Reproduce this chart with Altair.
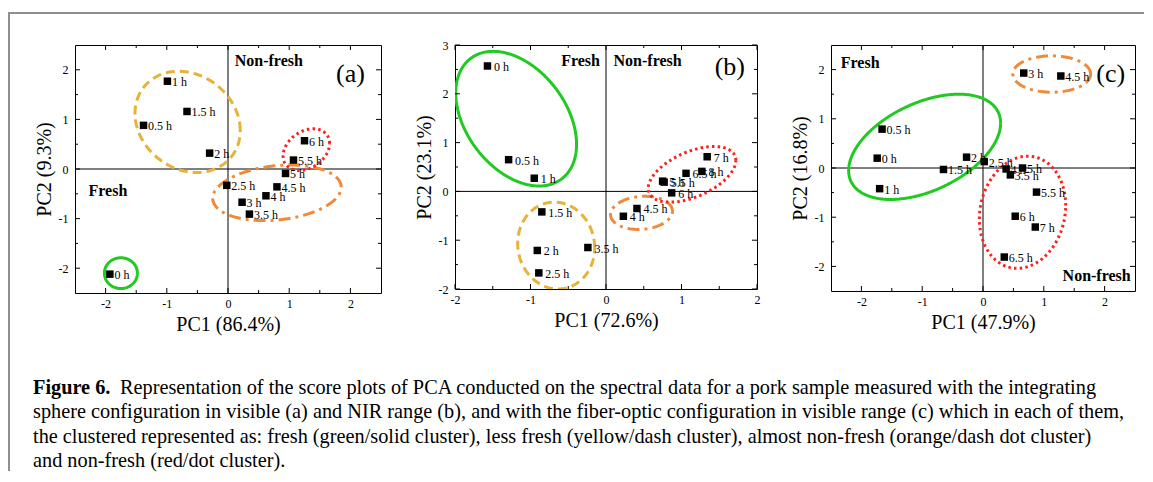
import altair as alt
import numpy as np
import pandas as pd

FONT = "Liberation Serif"

# ---------------- panel (a): integrating sphere, visible ----------------
a_labels = ["0 h", "0.5 h", "1 h", "1.5 h", "2 h", "2.5 h", "3 h", "3.5 h",
            "4 h", "4.5 h", "5 h", "5.5 h", "6 h"]
a_pc1 = [-1.93, -1.38, -0.99, -0.67, -0.30, -0.02, 0.23, 0.35, 0.62, 0.80, 0.94, 1.07, 1.25]
a_pc2 = [-2.12, 0.88, 1.77, 1.16, 0.32, -0.33, -0.67, -0.91, -0.54, -0.36, -0.09, 0.18, 0.57]
a_xticks = [-2, -1, 0, 1, 2]
a_xminor = [-1.5, -0.5, 0.5, 1.5]
a_yticks = [-2, -1, 0, 1, 2]
a_yminor = [-1.5, -0.5, 0.5, 1.5]
# cluster ellipses: centre, half extents, correlation
a_cl = ["fresh", "less fresh", "almost non-fresh", "non-fresh"]
a_cx = [-1.75, -0.66, 0.80, 1.28]
a_cy = [-2.10, 0.95, -0.48, 0.39]
a_hx = [0.27, 0.86, 1.05, 0.38]
a_hy = [0.31, 1.02, 0.56, 0.42]
a_r = [0.0, -0.17, 0.20, 0.30]

# ---------------- panel (b): integrating sphere, NIR ----------------
b_labels = ["0 h", "0.5 h", "1 h", "1.5 h", "2 h", "2.5 h", "3.5 h", "4 h", "4.5 h",
            "5 h", "5.5 h", "6 h", "6.5 h", "7 h", "8 h"]
b_pc1 = [-1.57, -1.29, -0.95, -0.85, -0.91, -0.89, -0.24, 0.23, 0.41, 0.75, 0.77, 0.87, 1.06, 1.34, 1.27]
b_pc2 = [2.57, 0.65, 0.27, -0.42, -1.21, -1.67, -1.15, -0.51, -0.35, 0.21, 0.19, -0.03, 0.37, 0.71, 0.41]
b_xticks = [-2, -1, 0, 1, 2]
b_xminor = [-1.5, -0.5, 0.5, 1.5]
b_yticks = [-2, -1, 0, 1, 2, 3]
b_yminor = [-1.5, -0.5, 0.5, 1.5, 2.5]
b_cl = ["fresh", "less fresh", "almost non-fresh", "non-fresh"]
b_cx = [-1.19, -0.66, 0.47, 1.14]
b_cy = [1.49, -1.11, -0.44, 0.35]
b_hx = [0.80, 0.51, 0.41, 0.58]
b_hy = [1.38, 0.89, 0.34, 0.57]
b_r = [-0.38, -0.05, 0.10, 0.50]

# ---------------- panel (c): fiber optic, visible ----------------
c_labels = ["0 h", "0.5 h", "1 h", "1.5 h", "2 h", "2.5 h", "3 h", "3.5 h", "4 h",
            "4.5 h", "5 h", "5.5 h", "6 h", "6.5 h", "7 h"]
c_pc1 = [-1.74, -1.66, -1.70, -0.65, -0.27, 0.02, 0.67, 0.45, 0.38, 1.28, 0.65, 0.88, 0.53, 0.35, 0.86]
c_pc2 = [0.20, 0.79, -0.42, -0.03, 0.22, 0.13, 1.93, -0.14, -0.02, 1.87, 0.00, -0.49, -0.98, -1.81, -1.20]
c_xticks = [-2, -1, 0, 1, 2]
c_xminor = [-1.5, -0.5, 0.5, 1.5]
c_yticks = [-2, -1, 0, 1, 2]
c_yminor = [-1.5, -0.5, 0.5, 1.5]
c_cl = ["fresh", "almost non-fresh", "non-fresh"]
c_cx = [-0.96, 1.13, 0.65]
c_cy = [0.43, 1.91, -0.90]
c_hx = [1.25, 0.64, 0.71]
c_hy = [1.07, 0.37, 1.14]
c_r = [0.45, 0.0, 0.12]

CLUSTERS = ["fresh", "less fresh", "almost non-fresh", "non-fresh"]
COLORS = ["#22c922", "#e8b23a", "#f08a3a", "#ff1e1e"]
DASHES = [[1, 0], [9, 5], [12, 5, 3, 5], [2.5, 3.2]]

caption_bold = "Figure 6."
caption_lines = [
    "Representation of the score plots of PCA conducted on the spectral data for a pork sample measured with the integrating",
    "sphere configuration in visible (a) and NIR range (b), and with the fiber-optic configuration in visible range (c) which in each of them,",
    "the clustered represented as: fresh (green/solid cluster), less fresh (yellow/dash cluster), almost non-fresh (orange/dash dot cluster)",
    "and non-fresh (red/dot cluster).",
]


def ellipse_df(cl, cx, cy, hx, hy, r):
    t = np.linspace(0, 2 * np.pi, 145)
    rows = []
    for c, x0, y0, a, b, rr in zip(cl, cx, cy, hx, hy, r):
        xs = x0 + a * np.cos(t)
        ys = y0 + b * (rr * np.cos(t) + np.sqrt(1 - rr * rr) * np.sin(t))
        for i, (xx, yy) in enumerate(zip(xs, ys)):
            rows.append({"cluster": c, "i": i, "x": float(xx), "y": float(yy)})
    return pd.DataFrame(rows)


def panel(labels, pc1, pc2, ell, xdom, ydom, xt, xm, yt, ym, xtitle, ytitle, notes, w, h, dx):
    xs = alt.Scale(domain=xdom, nice=False, zero=False)
    ys = alt.Scale(domain=ydom, nice=False, zero=False)
    xax = alt.Axis(values=xt, title=xtitle, labelExpr="datum.value + ''", labelPadding=5,
                   titlePadding=5, labelFlush=False, orient="bottom", ticks=False, domain=False,
                   grid=False, labels=True, labelFont=FONT, labelFontSize=12, labelColor="black",
                   titleFont=FONT, titleFontSize=20, titleFontWeight="normal", titleColor="black")
    yax = alt.Axis(values=yt, title=ytitle, labelExpr="datum.value + ''", labelPadding=7,
                   titlePadding=4, labelFlush=False, orient="left", ticks=False, domain=False,
                   grid=False, labels=True, labelFont=FONT, labelFontSize=12, labelColor="black",
                   titleFont=FONT, titleFontSize=20, titleFontWeight="normal", titleColor="black")

    def X(f):
        return alt.X(f, scale=xs, axis=xax)

    def Y(f):
        return alt.Y(f, scale=ys, axis=yax)

    def tick_layer(vals, size, axis, side):
        df = pd.DataFrame({"v": vals})
        if axis == "x":
            edge = ydom[0] if side == "low" else ydom[1]
            off = -size / 2 if side == "low" else size / 2
            return alt.Chart(df).mark_tick(orient="vertical", size=size, thickness=1,
                                           color="black", yOffset=off, opacity=1).transform_calculate(
                e=str(edge)).encode(x=X("v:Q"), y=Y("e:Q"))
        edge = xdom[0] if side == "low" else xdom[1]
        off = size / 2 if side == "low" else -size / 2
        return alt.Chart(df).mark_tick(orient="horizontal", size=size, thickness=1,
                                       color="black", xOffset=off, opacity=1).transform_calculate(
            e=str(edge)).encode(y=Y("v:Q"), x=X("e:Q"))

    pts = pd.DataFrame({"label": labels, "pc1": pc1, "pc2": pc2})
    layers = []
    zero = pd.DataFrame({"v": [0]})
    layers.append(alt.Chart(zero).mark_rule(color="black", strokeWidth=1).encode(x=X("v:Q")))
    layers.append(alt.Chart(zero).mark_rule(color="black", strokeWidth=1).encode(y=Y("v:Q")))
    layers.append(alt.Chart(ell).mark_line(strokeWidth=3, clip=True).encode(
        x=X("x:Q"), y=Y("y:Q"),
        color=alt.Color("cluster:N", scale=alt.Scale(domain=CLUSTERS, range=COLORS), legend=None),
        strokeDash=alt.StrokeDash("cluster:N", scale=alt.Scale(domain=CLUSTERS, range=DASHES), legend=None),
        detail="cluster:N",
        order="i:Q"))
    for side in ["low", "high"]:
        layers.append(tick_layer(xt, 5, "x", side))
        layers.append(tick_layer(xm, 3, "x", side))
        layers.append(tick_layer(yt, 5, "y", side))
        layers.append(tick_layer(ym, 3, "y", side))
    layers.append(alt.Chart(pts).mark_square(size=56, color="black", opacity=1).encode(
        x=X("pc1:Q"), y=Y("pc2:Q")))
    layers.append(alt.Chart(pts).mark_text(align="left", baseline="middle", dx=dx, dy=1,
                                           font=FONT, fontSize=12, color="black").encode(
        x=X("pc1:Q"), y=Y("pc2:Q"), text="label:N"))
    for (txt, nx, ny, align, bold, size) in notes:
        df = pd.DataFrame({"t": [txt], "nx": [nx], "ny": [ny]})
        layers.append(alt.Chart(df).mark_text(align=align, baseline="middle", font=FONT,
                                              fontSize=size, fontWeight="bold" if bold else "normal",
                                              color="black").encode(
            x=X("nx:Q"), y=Y("ny:Q"), text="t:N"))
    return alt.layer(*layers).properties(width=w, height=h)


pa = panel(a_labels, a_pc1, a_pc2, ellipse_df(a_cl, a_cx, a_cy, a_hx, a_hy, a_r),
           [-2.5, 2.5], [-2.5, 2.5], a_xticks, a_xminor, a_yticks, a_yminor,
           "PC1 (86.4%)", "PC2 (9.3%)",
           [("Non-fresh", 0.11, 2.17, "left", True, 16),
            ("Fresh", -2.28, -0.45, "left", True, 16),
            ("(a)", 2.0, 1.92, "center", False, 26)],
           306, 248, 4.5)

pb = panel(b_labels, b_pc1, b_pc2, ellipse_df(b_cl, b_cx, b_cy, b_hx, b_hy, b_r),
           [-2, 2], [-2, 3], b_xticks, b_xminor, b_yticks, b_yminor,
           "PC1 (72.6%)", "PC2 (23.1%)",
           [("Fresh", -0.08, 2.67, "right", True, 16),
            ("Non-fresh", 0.10, 2.67, "left", True, 16),
            ("(b)", 1.64, 2.55, "center", False, 26)],
           302, 244, 6.5)

pc = panel(c_labels, c_pc1, c_pc2, ellipse_df(c_cl, c_cx, c_cy, c_hx, c_hy, c_r),
           [-2.5, 2.5], [-2.5, 2.5], c_xticks, c_xminor, c_yticks, c_yminor,
           "PC1 (47.9%)", "PC2 (16.8%)",
           [("Fresh", -2.34, 2.13, "left", True, 16),
            ("Non-fresh", 2.43, -2.20, "right", True, 16),
            ("(c)", 2.10, 1.92, "center", False, 26)],
           304, 246, 4.5)

row = alt.hconcat(pa, pb, pc, spacing=74, bounds="flush")

CAP_SIZE = 20.3
cap_df = pd.DataFrame({"i": [0, 1, 2, 3], "txt": caption_lines})
yline = alt.Y("i:O", scale=alt.Scale(type="point", domain=[0, 1, 2, 3], range=[55, 128], padding=0),
              axis=None)
cap_bold = alt.Chart(cap_df).transform_filter("datum.i == 0").transform_calculate(
    b="'" + caption_bold + "'").mark_text(
    align="left", baseline="middle", font=FONT, fontSize=CAP_SIZE, fontWeight="bold", color="black").encode(
    x=alt.value(-42), y=yline, text="b:N")
cap_first = alt.Chart(cap_df).transform_filter("datum.i == 0").mark_text(
    align="left", baseline="middle", font=FONT, fontSize=CAP_SIZE, color="black").encode(
    x=alt.value(45), y=yline, text="txt:N")
cap_rest = alt.Chart(cap_df).transform_filter("datum.i > 0").mark_text(
    align="left", baseline="middle", font=FONT, fontSize=CAP_SIZE, color="black").encode(
    x=alt.value(-42), y=yline, text="txt:N")
frame_top = alt.Chart(pd.DataFrame({"k": [0]})).mark_rule(color="#8f8f8f", strokeWidth=2).encode(
    x=alt.value(-66), x2=alt.value(1069), y=alt.value(-320))
frame_left = alt.Chart(pd.DataFrame({"k": [0]})).mark_rule(color="#8f8f8f", strokeWidth=2).encode(
    x=alt.value(-66), y=alt.value(-321), y2=alt.value(138))
caption = alt.layer(frame_top, frame_left, cap_bold, cap_first, cap_rest).properties(
    width=1000, height=140, view=alt.ViewBackground(strokeOpacity=0))

chart = alt.vconcat(row, caption, spacing=288, bounds="flush",
                    padding={"left": 0, "top": 3, "right": 0, "bottom": 0}).configure_view(
    stroke="black", strokeWidth=1)

chart.save("out.html", embed_options={"renderer": "svg", "actions": False})
